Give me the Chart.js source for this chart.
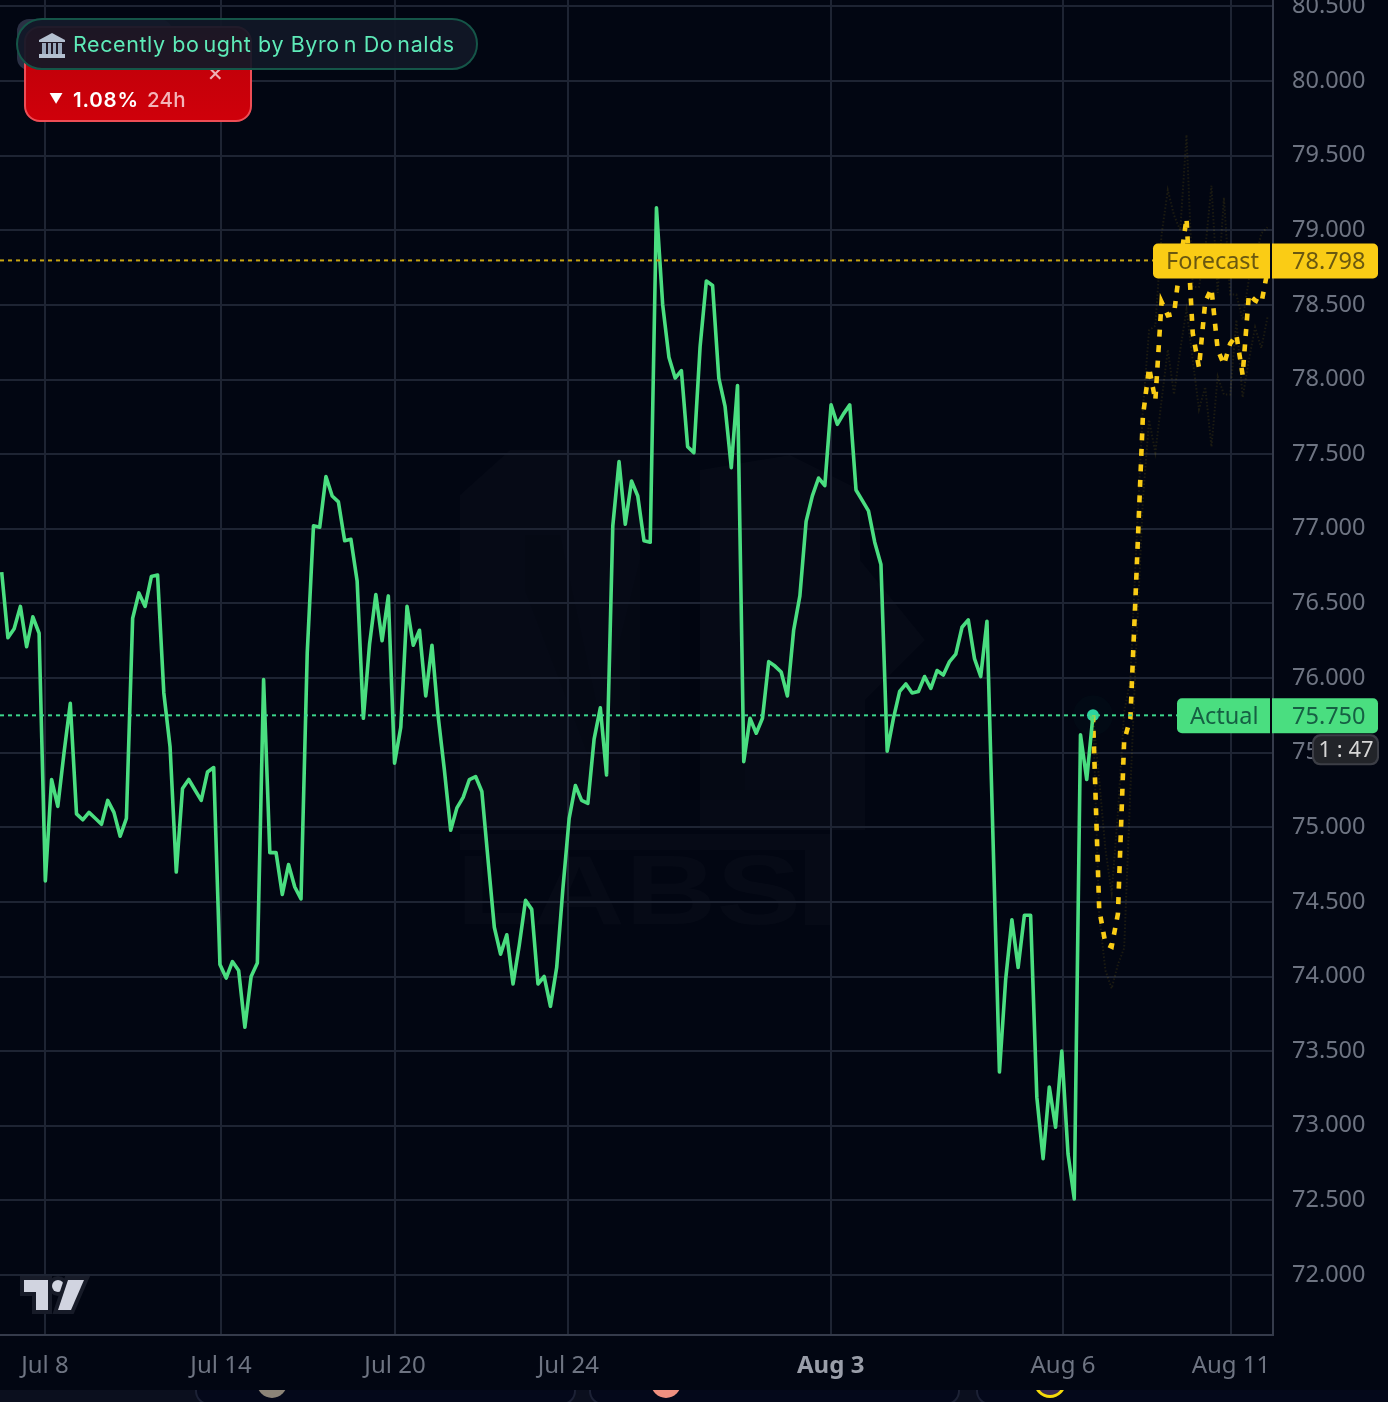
<!DOCTYPE html>
<html>
<head>
	<meta charset="utf-8">
	<title>Actual vs Forecast</title>
	<script src="https://cdn.jsdelivr.net/npm/chart.js@4"></script>
	<style>
		html, body { margin: 0; padding: 0; background: #020612; overflow: hidden; }
		body { position: relative; width: 1388px; height: 1402px; font-family: Inter, sans-serif; }
		#mark, #logo, #myChart { position: absolute; left: 0; top: 0; }
		#myChart { filter: blur(0.6px); }
		#strip { position: absolute; left: 0; top: 1390px; width: 1388px; height: 12px; background: #0b0f1e; overflow: hidden; }
		.card { position: absolute; top: -20px; height: 35px; border: 2px solid #1c2135; border-radius: 14px; background: #04081a; box-sizing: border-box; }
		.dot { position: absolute; border-radius: 50%; }
		#ghost { position: absolute; left: 17px; top: 19px; width: 155px; height: 51px; background: #2a3044; border-radius: 12px; }
		#red { position: absolute; left: 24px; top: 26px; width: 228px; height: 96px; box-sizing: border-box; background: linear-gradient(#bb0009, #cf000a); border: 2px solid #ee4d55; border-radius: 16px; color: #fff; }
		#red .pct { position: absolute; left: 47px; top: 59px; font-size: 20.5px; font-weight: 600; letter-spacing: 0.8px; white-space: pre; }
		#red .arrow { position: absolute; left: 23px; top: 62px; font-size: 14px; }
		#red .h { position: absolute; left: 121px; top: 59px; font-size: 20.5px; font-weight: 500; color: #f3b4b8; letter-spacing: 0.3px; }
		#red .x { position: absolute; left: 181px; top: 30px; font-size: 25px; line-height: 28px; color: #eeb0b4; }
		#badge { position: absolute; left: 16px; top: 18px; width: 462px; height: 52px; box-sizing: border-box; background: rgba(17,24,39,0.93); border: 2px solid #155548; border-radius: 26px; color: #5eeab8; font-size: 21.5px; line-height: 48px; white-space: pre; }
		#badge span { position: absolute; left: 55px; top: 0; letter-spacing: 0.58px; }
		#badge i { font-style: normal; margin-right: 4px; }
		#bank { position: absolute; left: 20px; top: 13px; }
	</style>
</head>
<body>
	<svg id="mark" width="1388" height="1390">
		<g fill="#ffffff" fill-opacity="0.02">
			<path d="M460 495 L510 450 L640 450 L640 830 L460 830 Z"/>
			<path d="M700 470 L790 455 L860 490 L860 560 L925 640 L865 700 L865 830 L700 830 Z"/>
			<rect x="460" y="834" width="345" height="16"/>
			<path d="M805 834 L830 834 L830 925 L805 925 Z"/>
		</g>
		<g fill="#000000" fill-opacity="0.09">
			<path d="M525 535 L560 535 L600 720 L640 560 L640 760 L590 760 L525 590 Z"/>
			<rect x="680" y="600" width="20" height="200"/>
			<path d="M700 690 L745 690 L745 790 L800 790 L800 800 L700 800 Z"/>
		</g>
		<text x="456" y="924" font-family="Liberation Sans, sans-serif" font-size="98" font-weight="700" textLength="345" lengthAdjust="spacingAndGlyphs" fill="#ffffff" fill-opacity="0.02">LABS</text>
	</svg>

	<canvas id="myChart" width="1388" height="1390"></canvas>

	<svg id="logo" width="100" height="1320" style="pointer-events:none">
		<g stroke="#171b28" stroke-width="8" stroke-linejoin="miter" fill="#d1d4e0" paint-order="stroke">
			<path d="M24 1280 L48 1280 L48 1310 L36 1310 L36 1292 L24 1292 Z"/>
			<circle cx="58" cy="1286" r="6"/>
			<path d="M68 1280 L84 1280 L71 1310 L58 1310 Z"/>
		</g>
	</svg>

	<div id="strip">
		<div class="card" style="left:195px;width:381px"></div>
		<div class="card" style="left:589px;width:371px"></div>
		<div class="card" style="left:976px;width:430px"></div>
		<div class="dot" style="left:257px;top:-22px;width:30px;height:30px;background:#8c8478"></div>
		<div class="dot" style="left:651px;top:-22px;width:30px;height:30px;background:#ef9080"></div>
		<div class="dot" style="left:1034px;top:-24px;width:26px;height:26px;border:3px solid #f5d90a;background:#3a2a50"></div>
	</div>

	<div id="ghost"></div>
	<div id="red">
		<div class="x">×</div>
		<div class="arrow">▼</div>
		<div class="pct">1.08%</div>
		<div class="h">24h</div>
	</div>
	<div id="badge">
		<svg id="bank" width="28" height="26" viewBox="0 0 28 26">
			<path d="M14 0 L27 7 L27 9 L1 9 L1 7 Z" fill="#b4c0d0"/>
			<g fill="#98a6ba"><rect x="4" y="10" width="4" height="11"/><rect x="10" y="10" width="3" height="11"/><rect x="15" y="10" width="3" height="11"/><rect x="20" y="10" width="4" height="11"/></g>
			<rect x="1" y="21" width="26" height="4" fill="#b4c0d0"/>
		</svg>
		<span>Recently b<i>o</i>ught by Byr<i>o</i>n D<i>o</i>nalds</span>
	</div>

	<script>

		var xTickPositions = [6.94, 35.17, 63.07, 90.86, 132.94, 170.19, 197.13];
		var xTickLabels = ["Jul 8", "Jul 14", "Jul 20", "Jul 24", "Aug 3", "Aug 6", "Aug 11"];
		var yTicks = [72, 72.5, 73, 73.5, 74, 74.5, 75, 75.5, 76, 76.5, 77, 77.5, 78, 78.5, 79, 79.5, 80, 80.5];

		var actualValues = [
			76.71, 76.27, 76.33, 76.48, 76.21, 76.41, 76.30, 74.64, 75.32, 75.14,
			75.50, 75.83, 75.09, 75.05, 75.10, 75.06, 75.02, 75.18, 75.10, 74.94,
			75.06, 76.40, 76.57, 76.48, 76.68, 76.69, 75.90, 75.54, 74.70, 75.26,
			75.32, 75.25, 75.18, 75.37, 75.40, 74.08, 73.99, 74.10, 74.04, 73.66,
			74.00, 74.09, 75.99, 74.83, 74.83, 74.55, 74.75, 74.60, 74.52, 76.17,
			77.02, 77.01, 77.35, 77.22, 77.18, 76.92, 76.93, 76.65, 75.73, 76.23,
			76.56, 76.25, 76.55, 75.43, 75.67, 76.48, 76.22, 76.32, 75.88, 76.22,
			75.74, 75.38, 74.98, 75.13, 75.20, 75.32, 75.34, 75.24, 74.78, 74.33,
			74.15, 74.28, 73.95, 74.21, 74.51, 74.45, 73.95, 74.00, 73.80, 74.06,
			74.59, 75.06, 75.28, 75.18, 75.16, 75.59, 75.80, 75.35, 77.02, 77.45,
			77.03, 77.32, 77.22, 76.92, 76.91, 79.15, 78.50, 78.15, 78.01, 78.06,
			77.55, 77.51, 78.22, 78.66, 78.63, 78.01, 77.82, 77.41, 77.96, 75.44,
			75.73, 75.63, 75.73, 76.11, 76.08, 76.04, 75.88, 76.32, 76.55, 77.05,
			77.22, 77.34, 77.29, 77.83, 77.70, 77.77, 77.83, 77.26, 77.19, 77.12,
			76.91, 76.76, 75.51, 75.73, 75.91, 75.96, 75.90, 75.91, 76.01, 75.93,
			76.05, 76.02, 76.11, 76.16, 76.34, 76.39, 76.13, 76.01, 76.38, 74.88,
			73.36, 73.98, 74.38, 74.06, 74.41, 74.41, 73.19, 72.78, 73.26, 72.99,
			73.50, 72.81, 72.51, 75.62, 75.32, 75.75
		];

		var forecastValues = [
			75.75, 74.45, 74.22, 74.20, 74.42, 75.58, 75.73, 76.72, 77.75, 78.08,
			77.86, 78.52, 78.43, 78.44, 78.78, 79.08, 78.31, 78.08, 78.52, 78.61,
			78.20, 78.10, 78.24, 78.30, 78.03, 78.57, 78.53, 78.51, 78.73
		];
		var forecastUpper = [
			75.75, 75.32, 74.85, 74.56, 75.10, 75.77, 75.99, 76.93, 77.80, 78.33,
			78.36, 78.97, 79.27, 79.10, 79.00, 79.64, 78.62, 78.62, 78.87, 79.30,
			78.58, 79.22, 78.57, 78.57, 78.40, 78.67, 78.80, 78.98, 79.02
		];
		var forecastLower = [
			75.75, 74.41, 74.04, 73.92, 74.08, 74.19, 75.25, 76.26, 77.19, 77.73,
			77.51, 77.86, 78.20, 77.90, 78.20, 78.47, 78.13, 77.80, 77.95, 77.55,
			78.02, 77.90, 77.90, 78.40, 77.88, 78.13, 78.35, 78.21, 78.42
		];

		var actualNow = 75.750;
		var forecastNow = 78.798;

		var xMin = -0.27, xMax = 203.87;
		var yMin = 71.598, yMax = 80.543;
		var axisFont = '"Noto Sans", sans-serif';

		function toPoints(values, start) {
			return values.map(function(v, i) { return { x: start + i, y: v }; });
		}

		function roundBox(c, x, y, w, h, r, fill) {
			c.beginPath();
			c.roundRect(x, y, w, h, r);
			c.fillStyle = fill;
			c.fill();
		}

		// no room kept round the plot for half labels
		function noMargins(scale) {
			scale.paddingLeft = 0;
			scale.paddingRight = 0;
			scale.paddingTop = 0;
			scale.paddingBottom = 0;
		}

		// the price tags on the right, hung on the y scale
		var tagsPlugin = {
			id: 'tags',
			afterDraw: function(chart) {
				var c = chart.ctx, ys = chart.scales.y;
				function tag(name, value, boxLeft, fill, ink) {
					var y = ys.getPixelForValue(value);
					roundBox(c, boxLeft, y - 17, 1270 - boxLeft, 35, [5, 0, 0, 5], fill);
					roundBox(c, 1272, y - 17, 106, 35, [0, 5, 5, 0], fill);
					c.font = '23.5px ' + axisFont;
					c.fillStyle = ink;
					c.textBaseline = 'middle';
					c.textAlign = 'left';
					c.fillText(name, boxLeft + 13, y + 2);
					c.fillText(value.toFixed(3), 1292, y + 2);
				}
				c.save();
				tag('Forecast', forecastNow, 1153, '#facc15', '#6a5810');
				tag('Actual', actualNow, 1177, '#4ade80', '#166043');

				var y = ys.getPixelForValue(actualNow);
				roundBox(c, 1312, y + 19, 67, 31, 8, '#3c3e46');
				roundBox(c, 1314, y + 21, 63, 27, 7, '#222429');
				c.font = '22px ' + axisFont;
				c.fillStyle = '#d6d6d6';
				c.textAlign = 'center';
				c.fillText('1 : 47', 1346, y + 35);
				c.restore();
			}
		};

		var ctx = document.getElementById('myChart').getContext('2d');
		var chart = new Chart(ctx, {
			type: 'line',
			plugins: [tagsPlugin],
			data: {
				datasets: [
					{
						label: 'Forecast level',
						data: [{ x: xMin, y: forecastNow }, { x: xMax, y: forecastNow }],
						borderColor: '#c9a514', borderWidth: 2, borderDash: [4, 4], pointRadius: 0
					},
					{
						label: 'Actual level',
						data: [{ x: xMin, y: actualNow }, { x: xMax, y: actualNow }],
						borderColor: '#3dd68c', borderWidth: 2, borderDash: [4, 4], pointRadius: 0
					},
					{
						label: 'Upper',
						data: toPoints(forecastUpper, 175),
						borderColor: 'rgba(250,204,21,0.11)', borderWidth: 2, borderDash: [1.5, 2], pointRadius: 0
					},
					{
						label: 'Lower',
						data: toPoints(forecastLower, 175),
						borderColor: 'rgba(250,204,21,0.11)', borderWidth: 2, borderDash: [1.5, 2], pointRadius: 0
					},
					{
						label: 'Actual',
						data: toPoints(actualValues, 0),
						borderColor: '#4ade80', borderWidth: 3.6, pointRadius: 0, borderJoinStyle: 'round'
					},
					{
						label: 'Forecast',
						data: toPoints(forecastValues, 175),
						borderColor: '#facc15', borderWidth: 4.6, borderDash: [7, 8.5], pointRadius: 0
					},
					{
						label: 'Glow',
						data: toPoints([actualNow], 175),
						pointRadius: 20, pointBackgroundColor: 'rgba(45,212,160,0.025)', pointBorderWidth: 0
					},
					{
						label: 'Last',
						data: toPoints([actualNow], 175),
						pointRadius: 6, pointBackgroundColor: '#2dd4a0', pointBorderWidth: 0
					}
				]
			},
			options: {
				responsive: false,
				animation: false,
				layout: { padding: 0, autoPadding: false },
				plugins: { legend: { display: false }, title: { display: false }, tooltip: { enabled: false } },
				scales: {
					x: {
						type: 'linear', min: xMin, max: xMax,
						afterBuildTicks: function(scale) {
							scale.ticks = xTickPositions.map(function(v) { return { value: v }; });
						},
						afterFit: function(scale) { scale.height = 55; noMargins(scale); },
						grid: { color: '#1e2433', lineWidth: 2, drawTicks: false },
						border: { color: '#353b4b', width: 2 },
						ticks: {
							autoSkip: false, maxRotation: 0, padding: 17,
							callback: function(v, i) { return xTickLabels[i]; },
							color: function(c) { return c.index === 4 ? '#9a9ea9' : '#6e7482'; },
							font: function(c) {
								return { family: axisFont, size: 24, weight: c.index === 4 ? '700' : '400' };
							}
						}
					},
					y: {
						type: 'linear', position: 'right', min: yMin, max: yMax,
						afterBuildTicks: function(scale) {
							scale.ticks = yTicks.map(function(v) { return { value: v }; });
						},
						afterFit: function(scale) { scale.width = 115; noMargins(scale); },
						grid: { color: '#1e2433', lineWidth: 2, drawTicks: false },
						border: { color: '#353b4b', width: 2 },
						ticks: {
							autoSkip: false, padding: 19, color: '#6e7482',
							callback: function(v) { return v.toFixed(3); },
							font: { family: axisFont, size: 23.5 }
						}
					}
				}
			}
		});

	</script>
</body>
</html>
